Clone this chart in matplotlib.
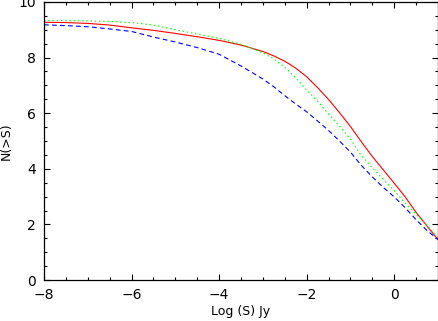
import matplotlib
matplotlib.use('Agg')
import matplotlib.pyplot as plt
from matplotlib.ticker import MultipleLocator

# Log S (Jy) sample points
logS = [-8.0, -7.5, -7.0, -6.5, -6.0, -5.5, -5.0, -4.5, -4.0, -3.5, -3.0, -2.75,
        -2.5, -2.25, -2.0, -1.75, -1.5, -1.25, -1.0, -0.75, -0.5, -0.25, 0.0,
        0.25, 0.5, 0.75, 1.0]

# N(>S) curves
n_red = [9.27, 9.26, 9.23, 9.17, 9.07, 8.98, 8.87, 8.75, 8.62, 8.45, 8.22, 8.06,
         7.87, 7.62, 7.31, 6.92, 6.49, 6.02, 5.52, 4.97, 4.44, 3.96, 3.48,
         2.99, 2.43, 1.94, 1.45]
n_green = [9.33, 9.33, 9.32, 9.30, 9.26, 9.17, 9.00, 8.85, 8.69, 8.48, 8.17, 7.95,
           7.65, 7.27, 6.83, 6.43, 5.97, 5.54, 5.07, 4.47, 4.04, 3.62, 3.21,
           2.77, 2.36, 1.96, 1.53]
n_blue = [9.18, 9.15, 9.11, 9.03, 8.94, 8.74, 8.56, 8.36, 8.12, 7.70, 7.23, 6.95,
          6.63, 6.33, 6.05, 5.72, 5.38, 5.00, 4.60, 4.12, 3.71, 3.33, 2.99,
          2.60, 2.17, 1.78, 1.45]

fig = plt.figure(figsize=(4.39, 3.21), dpi=100)
ax = fig.add_axes([0.1002, 0.1277, 0.8975, 0.8661])

ax.plot(logS, n_red, color='#ff0000', lw=0.8, ls='-')
ax.plot(logS, n_green, color='#00ff00', lw=0.8, dashes=(1.4, 2.4))
ax.plot(logS, n_blue, color='#0000ff', lw=0.8, dashes=(4.3, 2.9))

ax.set_xlim(-8, 1)
ax.set_ylim(0, 10)
ax.xaxis.set_major_locator(MultipleLocator(2))
ax.xaxis.set_minor_locator(MultipleLocator(0.5))
ax.yaxis.set_major_locator(MultipleLocator(2))
ax.yaxis.set_minor_locator(MultipleLocator(0.5))
ax.tick_params(which='both', direction='in', top=True, right=True, width=0.8,
               labelsize=10, pad=6)
ax.tick_params(which='major', length=4.5)
ax.tick_params(which='minor', length=2.5)
for s in ax.spines.values():
    s.set_linewidth(0.9)

ax.set_xlabel('Log (S) Jy', fontsize=9, labelpad=2)
ax.set_ylabel('N(>S)', fontsize=9, labelpad=4)

fig.savefig('out.png', dpi=100)
